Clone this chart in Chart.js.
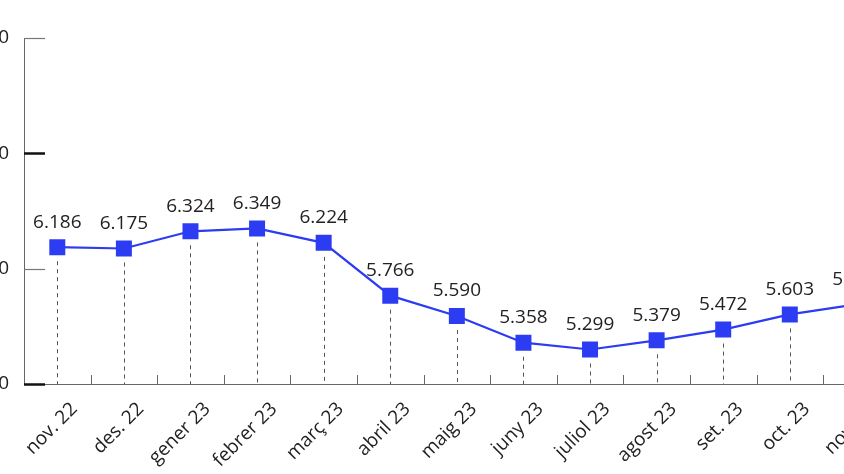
<!DOCTYPE html>
<html>
<head>
<meta charset="utf-8">
<script src="https://cdn.jsdelivr.net/npm/chart.js@4.4.0/dist/chart.umd.min.js"></script>
<style>
  html, body { margin: 0; padding: 0; background: #fff; overflow: hidden; }
  #wrap { position: absolute; left: -60px; top: 0; width: 961px; height: 474px; }
</style>
</head>
<body>
<div id="wrap"><canvas id="myChart" width="961" height="474"></canvas></div>
<script>
// months shown on the axis (the last one is cut by the frame)
var months = ['nov. 22', 'des. 22', 'gener 23', 'febrer 23', 'març 23', 'abril 23',
  'maig 23', 'juny 23', 'juliol 23', 'agost 23', 'set. 23', 'oct. 23', 'nov. 23'];
var values = [6186, 6175, 6324, 6349, 6224, 5766, 5590, 5358, 5299, 5379, 5472, 5603, 5690];
var yTicks = [5000, 6000, 7000, 8000];

var blue = '#2b3cf2';
var fontFam = '"Open Sans", "Noto Sans", sans-serif';

function fmt(v) {
  // catalan thousands separator
  var s = String(Math.round(v));
  return s.replace(/\B(?=(\d{3})+(?!\d))/g, '.');
}

// ticks pointing inward, drop lines and value labels
var extras = {
  id: 'extras',
  beforeDatasetsDraw: function(chart) {
    var ctx = chart.ctx;
    var xs = chart.scales.x, ys = chart.scales.y;
    var bottom = chart.chartArea.bottom, left = chart.chartArea.left;
    ctx.save();
    // y ticks
    yTicks.forEach(function(t, i) {
      var y = Math.round(ys.getPixelForValue(t)) + 0.5;
      ctx.strokeStyle = (i % 2 == 0) ? '#111' : '#777';
      ctx.lineWidth = (i % 2 == 0) ? 2.5 : 1.2;
      ctx.beginPath();
      ctx.moveTo(left, y);
      ctx.lineTo(left + 21, y);
      ctx.stroke();
    });
    // x ticks between months
    ctx.strokeStyle = '#666';
    ctx.lineWidth = 1;
    var step = xs.getPixelForValue(1) - xs.getPixelForValue(0);
    for (var i = 0; i < months.length; i++) {
      var x = Math.round(xs.getPixelForValue(i) + step / 2) + 0.5;
      ctx.beginPath();
      ctx.moveTo(x, bottom);
      ctx.lineTo(x, bottom - 9);
      ctx.stroke();
    }
    // drop lines
    ctx.strokeStyle = '#555';
    ctx.setLineDash([4, 4]);
    values.forEach(function(v, i) {
      var x = Math.round(xs.getPixelForValue(i)) + 0.5;
      var y = ys.getPixelForValue(v);
      ctx.beginPath();
      ctx.moveTo(x, y + 14);
      ctx.lineTo(x, bottom);
      ctx.stroke();
    });
    ctx.restore();
  },
  afterDatasetsDraw: function(chart) {
    var ctx = chart.ctx;
    var xs = chart.scales.x, ys = chart.scales.y;
    ctx.save();
    ctx.fillStyle = '#222';
    ctx.font = '19px ' + fontFam;
    ctx.textAlign = 'center';
    ctx.textBaseline = 'middle';
    values.forEach(function(v, i) {
      ctx.fillText(fmt(v), xs.getPixelForValue(i), ys.getPixelForValue(v) - 25);
    });
    ctx.restore();
  }
};

var ctxDir = document.getElementById('myChart');
var lineChart = new Chart(ctxDir, {
  type: 'line',
  data: {
    labels: months,
    datasets: [{
      data: values,
      borderColor: blue,
      borderWidth: 2.2,
      backgroundColor: blue,
      pointStyle: 'rect',
      pointRadius: 11.3,
      pointBorderWidth: 0,
      tension: 0
    }]
  },
  options: {
    responsive: false,
    animation: false,
    layout: { padding: { top: 38, right: 1, bottom: 0, left: 0 } },
    plugins: { legend: { display: false }, tooltip: { enabled: false } },
    scales: {
      x: {
        offset: true,
        grid: { display: false, drawTicks: false },
        border: { display: true, color: '#666', width: 1 },
        afterFit: function(s) { s.height = 90; },
        ticks: {
          color: '#222',
          font: { family: fontFam, size: 19 },
          maxRotation: 45,
          minRotation: 45,
          padding: 14,
          labelOffset: 17,
          autoSkip: false
        }
      },
      y: {
        min: 5000,
        max: 8000,
        afterFit: function(s) { s.width = 84; },
        afterBuildTicks: function(s) { s.ticks = yTicks.map(function(v) { return { value: v }; }); },
        grid: { display: false, drawTicks: false },
        border: { display: true, color: '#666', width: 1 },
        ticks: {
          color: '#222',
          font: { family: fontFam, size: 19 },
          padding: 15,
          callback: function(v) { return fmt(v); }
        }
      }
    }
  },
  plugins: [extras]
});
</script>
</body>
</html>
